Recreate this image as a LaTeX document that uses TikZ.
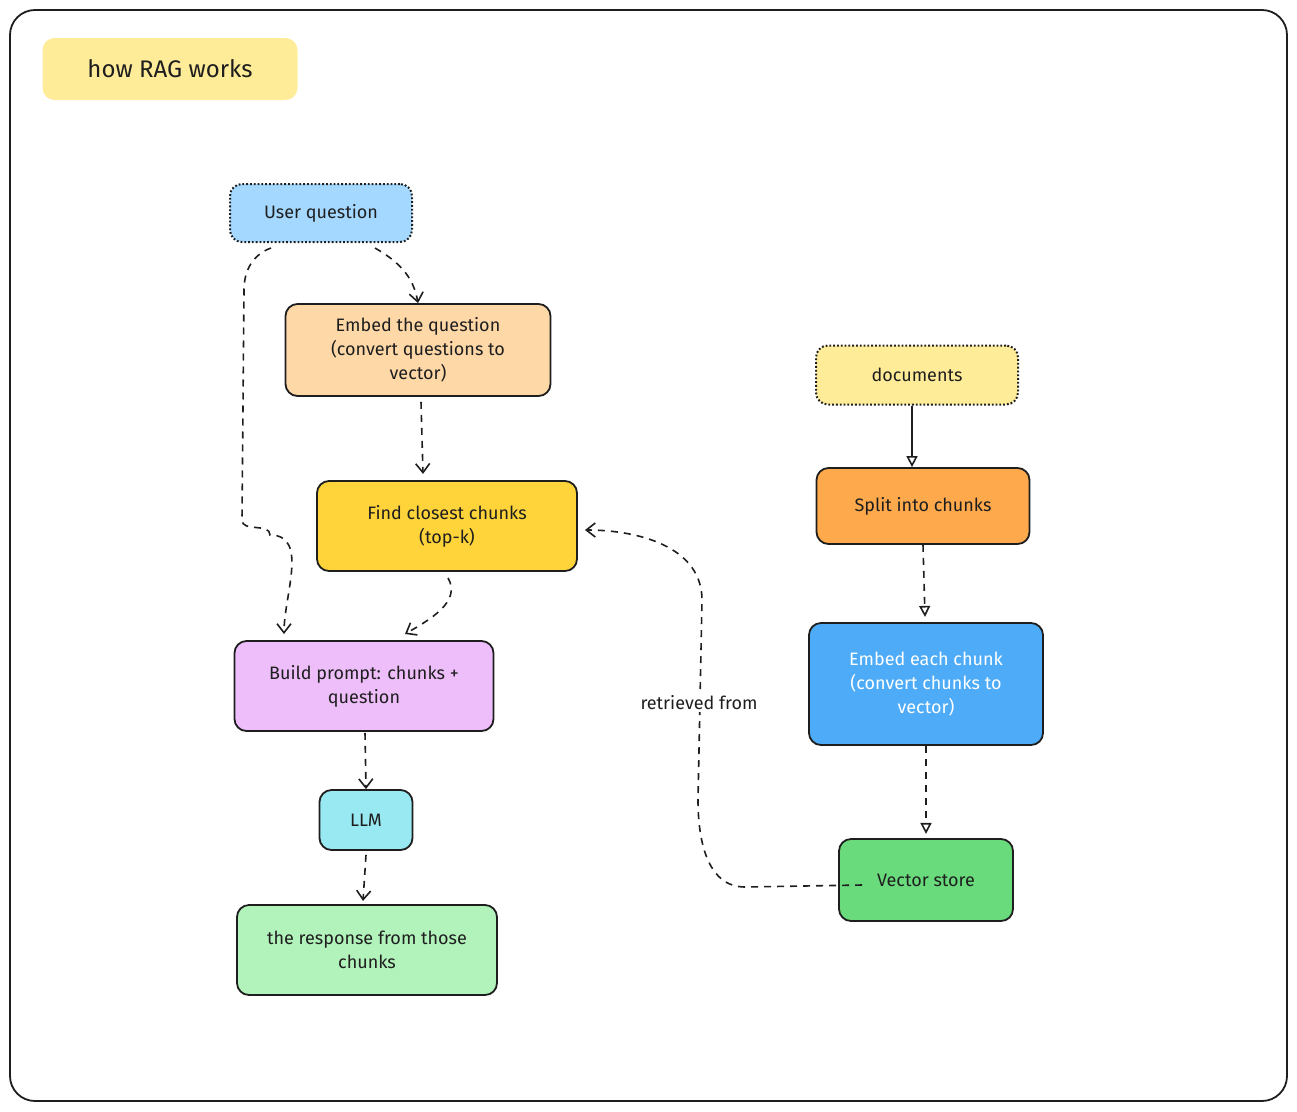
\documentclass[tikz,border=0pt]{standalone}
\usepackage{fontspec}
\setmainfont{Fira Sans}
\usetikzlibrary{arrows.meta}
\definecolor{cUQ}{HTML}{A5D8FF}
\definecolor{cEQ}{HTML}{FFD8A8}
\definecolor{cFC}{HTML}{FFD43B}
\definecolor{cBP}{HTML}{EEBEFA}
\definecolor{cLL}{HTML}{99E9F2}
\definecolor{cRS}{HTML}{B2F2BB}
\definecolor{cDO}{HTML}{FFEC99}
\definecolor{cSP}{HTML}{FFA94D}
\definecolor{cEC}{HTML}{4DABF7}
\definecolor{cVS}{HTML}{69DB7C}
\definecolor{ink}{HTML}{1E1E1E}
\begin{document}
\begin{tikzpicture}[x=1pt,y=-1pt,
  box/.style={draw=ink,line width=1.8pt,rounded corners=12pt,align=center,font=\fontsize{18}{24}\selectfont,text=ink,inner sep=0pt},
  dot/.style={box,dotted,line width=2pt},
  darr/.style={draw=ink,line width=1.6pt,dashed,dash pattern=on 7pt off 6pt,-{Straight Barb[length=9pt,width=14pt]}},
  tarr/.style={draw=ink,line width=1.6pt,-{Triangle[open,length=11pt,width=11pt]}}]
\useasboundingbox (0,0) rectangle (1297,1111);
\draw[ink,line width=1.8pt,rounded corners=25pt] (10,10) rectangle (1287,1101);
\node[fill=cDO,rounded corners=12pt,minimum width=255pt,minimum height=62pt,font=\fontsize{24}{28}\selectfont,text=ink] (title) at (170,69) {how RAG works};
\node[dot,fill=cUQ,minimum width=182pt,minimum height=58pt] (uq) at (321,213) {User question};
\node[box,fill=cEQ,minimum width=265pt,minimum height=92pt] (eq) at (418,350) {Embed the question\\(convert questions to\\vector)};
\node[box,fill=cFC,minimum width=260pt,minimum height=90pt] (fc) at (447,526) {Find closest chunks\\(top-k)};
\node[box,fill=cBP,minimum width=259pt,minimum height=90pt] (bp) at (364,686) {Build prompt: chunks +\\question};
\node[box,fill=cLL,minimum width=93pt,minimum height=60pt] (ll) at (366,820) {LLM};
\node[box,fill=cRS,minimum width=260pt,minimum height=90pt] (rs) at (367,950) {the response from those\\chunks};
\node[dot,fill=cDO,minimum width=202pt,minimum height=59pt] (do) at (917,375) {documents};
\node[box,fill=cSP,minimum width=213pt,minimum height=76pt] (sp) at (923,506) {Split into chunks};
\node[box,fill=cEC,minimum width=234pt,minimum height=122pt,text=white] (ec) at (926,684) {Embed each chunk\\(convert chunks to\\vector)};
\node[box,fill=cVS,minimum width=174pt,minimum height=82pt] (vs) at (926,880) {Vector store};
\draw[darr] (uq.south)++(54,5) to[out=-30,in=100] (eq.north);
\draw[darr] (uq.south)++(-50,5) to[out=200,in=90] (244,290) -- (242,520) to[out=-90,in=90] (270,535) to[out=0,in=90] (284,634);
\draw[darr] (eq.south)++(3,5) -- ++(2,72);
\draw[darr] (fc.south)++(1,6) to[out=-60,in=30] (405,634);
\draw[darr] (bp.south)++(1,1) -- (ll.north);
\draw[darr] (ll.south)++(0,4) -- ++(-3,46);
\draw[tarr] (do.south)++(-5,0) -- (sp.north-|912,0);
\draw[tarr,dashed,dash pattern=on 7pt off 6pt] (sp.south) -- ++(2,72);
\draw[tarr,dashed,dash pattern=on 7pt off 6pt] (ec.south) -- ++(0,88);
\draw[darr] (862,885) -- (745,887) to[out=180,in=-90] (698,800) -- (702,600) to[out=90,in=0] (585,530);
\node[fill=white,font=\fontsize{18}{22}\selectfont,text=ink,inner sep=2pt] (lab) at (699,703) {retrieved from};
\end{tikzpicture}
\end{document}
